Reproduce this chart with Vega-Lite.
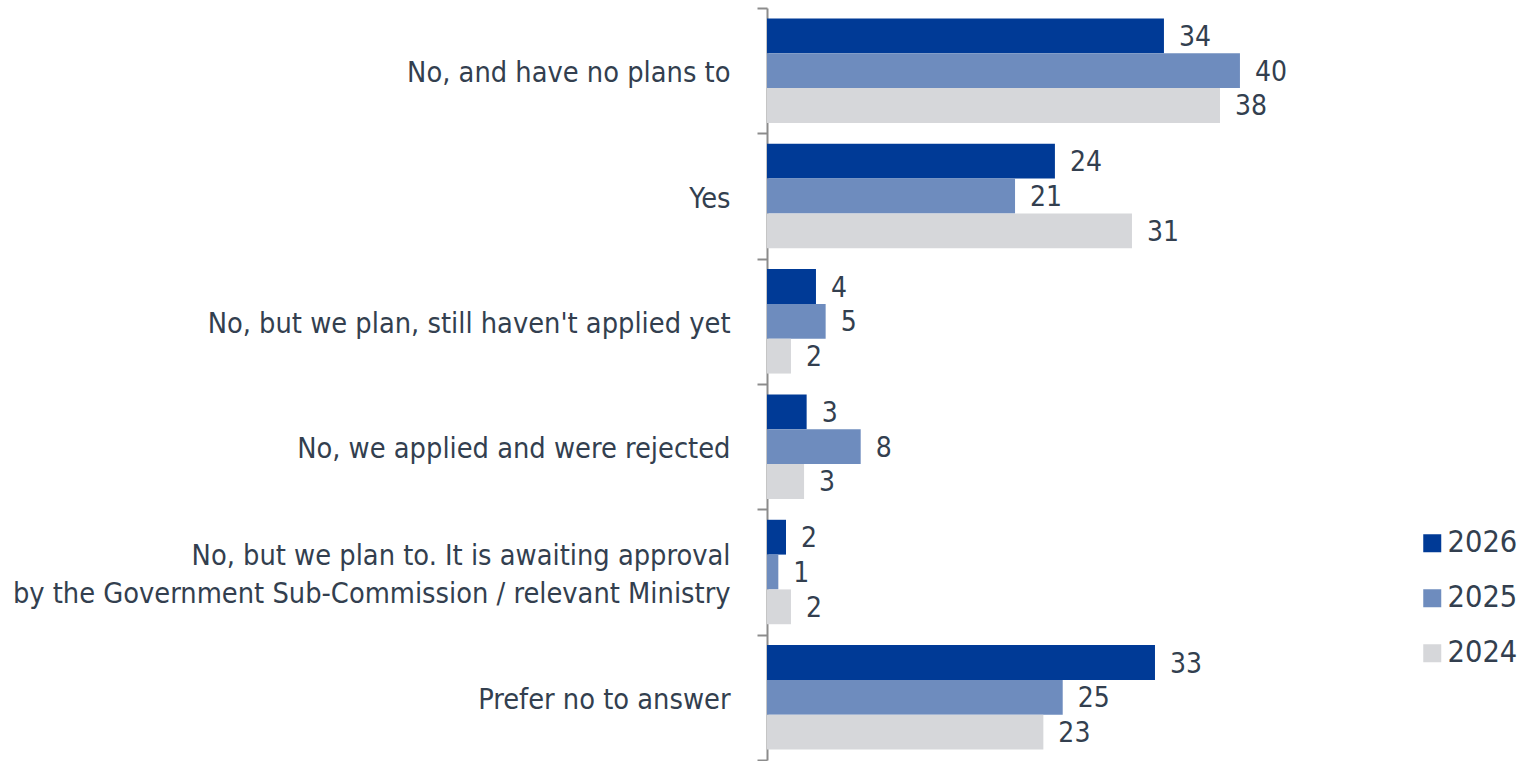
{
  "$schema": "https://vega.github.io/schema/vega-lite/v6.json",
  "autosize": {"type": "none"},
  "width": 590,
  "height": 752,
  "padding": {"left": 767, "top": 8, "right": 165, "bottom": 1},
  "background": "white",
  "config": {"view": {"stroke": null}},
  "data": {
    "values": [
      {"answer": "No, and have no plans to", "year": "2026", "value": 33.64},
      {"answer": "No, and have no plans to", "year": "2025", "value": 40.08},
      {"answer": "No, and have no plans to", "year": "2024", "value": 38.39},
      {"answer": "Yes", "year": "2026", "value": 24.4},
      {"answer": "Yes", "year": "2025", "value": 21.02},
      {"answer": "Yes", "year": "2024", "value": 30.93},
      {"answer": "No, but we plan, still haven't applied yet", "year": "2026", "value": 4.15},
      {"answer": "No, but we plan, still haven't applied yet", "year": "2025", "value": 4.97},
      {"answer": "No, but we plan, still haven't applied yet", "year": "2024", "value": 2.03},
      {"answer": "No, we applied and were rejected", "year": "2026", "value": 3.36},
      {"answer": "No, we applied and were rejected", "year": "2025", "value": 7.94},
      {"answer": "No, we applied and were rejected", "year": "2024", "value": 3.14},
      {"answer": "No, but we plan to. It is awaiting approval|by the Government Sub-Commission / relevant Ministry", "year": "2026", "value": 1.61},
      {"answer": "No, but we plan to. It is awaiting approval|by the Government Sub-Commission / relevant Ministry", "year": "2025", "value": 0.96},
      {"answer": "No, but we plan to. It is awaiting approval|by the Government Sub-Commission / relevant Ministry", "year": "2024", "value": 2.03},
      {"answer": "Prefer no to answer", "year": "2026", "value": 32.88},
      {"answer": "Prefer no to answer", "year": "2025", "value": 25.06},
      {"answer": "Prefer no to answer", "year": "2024", "value": 23.42}
    ]
  },
  "encoding": {
    "y": {
      "field": "answer", "type": "nominal", "sort": null,
      "scale": {"paddingInner": 0, "paddingOuter": 0},
      "axis": {
        "title": null,
        "labelExpr": "isValid(datum.value) ? split(datum.value, '|') : ''",
        "labelFont": "DejaVu Sans Condensed",
        "labelFontSize": 28.7,
        "labelColor": "#333f4f",
        "labelLineHeight": 38,
        "labelPadding": 27,
        "labelLimit": 800,
        "labelOffset": {"condition": {"test": "isValid(datum.value) && indexof(datum.value, '|') >= 0", "value": -17}, "value": 2},
        "tickBand": "extent",
        "tickSize": 10,
        "tickColor": "#8c8c8c",
        "tickWidth": 2,
        "domainColor": "#8c8c8c",
        "domainWidth": 2
      }
    },
    "yOffset": {
      "field": "year", "type": "nominal",
      "sort": ["2026", "2025", "2024"],
      "scale": {"paddingInner": 0, "paddingOuter": 0.3}
    },
    "x": {
      "field": "value", "type": "quantitative",
      "scale": {"domain": [0, 50], "nice": false, "zero": true},
      "axis": null
    }
  },
  "layer": [
    {
      "mark": {"type": "bar", "cornerRadius": 0},
      "encoding": {
        "color": {
          "field": "year", "type": "nominal",
          "scale": {"domain": ["2026", "2025", "2024"], "range": ["#003a96", "#6e8cbe", "#d6d7da"]},
          "legend": {
            "title": null,
            "orient": "none",
            "legendX": 650,
            "legendY": 520,
            "padding": 0,
            "symbolType": "square",
            "symbolSize": 324,
            "symbolStrokeWidth": 0,
            "labelFont": "DejaVu Sans Condensed",
            "labelFontSize": 30.5,
            "labelColor": "#333f4f",
            "labelOffset": 0,
            "rowPadding": 24
          }
        }
      }
    },
    {
      "mark": {
        "type": "text", "align": "left", "baseline": "middle", "dx": 15, "dy": 2,
        "font": "DejaVu Sans Condensed", "fontSize": 28, "color": "#333f4f"
      },
      "encoding": {
        "text": {"field": "value", "type": "quantitative", "format": ".0f"}
      }
    }
  ]
}
